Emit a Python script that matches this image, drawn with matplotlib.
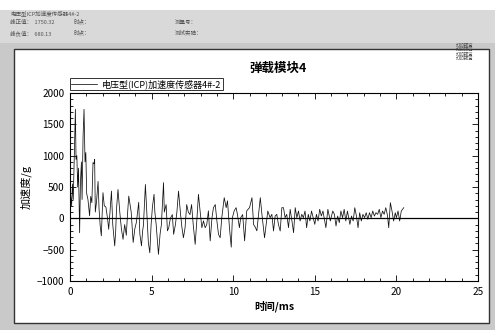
import matplotlib
matplotlib.use("Agg")
import matplotlib.pyplot as plt
from matplotlib.patches import Rectangle
from matplotlib.ticker import MultipleLocator

plt.rcParams['font.family'] = ['Noto Sans CJK SC', 'DejaVu Sans']

title = "弹载模块4"
legend_label = "电压型(ICP)加速度传感器4#-2"
x_label = "时间/ms"
y_label = "加速度/g"
x_ticks = [0, 5, 10, 15, 20, 25]
y_ticks = [-1000, -500, 0, 500, 1000, 1500, 2000]

time_ms = [
    0.00, 0.05, 0.10, 0.15, 0.20, 0.26, 0.33, 0.37, 0.42, 0.47, 0.52, 0.59, 0.64, 0.70, 0.74, 0.80,
    0.86, 0.92, 0.97, 1.02, 1.10, 1.20, 1.27, 1.34, 1.41, 1.47, 1.51, 1.55, 1.62, 1.72, 1.78, 1.85,
    1.92, 2.02, 2.10, 2.20, 2.30, 2.37, 2.45, 2.54, 2.62, 2.74, 2.80, 2.85, 2.94, 3.05, 3.15, 3.25,
    3.35, 3.45, 3.52, 3.60, 3.66, 3.75, 3.87, 3.97, 4.07, 4.14, 4.21, 4.28, 4.38, 4.45, 4.50, 4.62,
    4.70, 4.80, 4.89, 4.97, 5.05, 5.15, 5.20, 5.28, 5.36, 5.42, 5.52, 5.60, 5.73, 5.78, 5.89, 5.97,
    6.05, 6.15, 6.27, 6.35, 6.46, 6.55, 6.65, 6.70, 6.78, 6.86, 6.95, 7.05, 7.15, 7.25, 7.35, 7.45,
    7.55, 7.67, 7.77, 7.87, 7.97, 8.08, 8.18, 8.28, 8.38, 8.48, 8.59, 8.70, 8.79, 8.90, 9.00, 9.10,
    9.20, 9.30, 9.45, 9.57, 9.65, 9.77, 9.88, 9.95, 10.06, 10.18, 10.26, 10.38, 10.46, 10.58, 10.70, 10.83,
    11.00, 11.15, 11.25, 11.35, 11.45, 11.55, 11.66, 11.76, 11.92, 12.02, 12.12, 12.26, 12.37, 12.47, 12.57, 12.67,
    12.77, 12.88, 12.98, 13.08, 13.18, 13.28, 13.39, 13.49, 13.60, 13.70, 13.80, 13.90, 14.00, 14.10, 14.20, 14.30,
    14.40, 14.50, 14.60, 14.70, 14.80, 14.90, 15.00, 15.10, 15.20, 15.30, 15.40, 15.50, 15.68, 15.80, 15.95, 16.10,
    16.20, 16.30, 16.40, 16.50, 16.60, 16.70, 16.80, 16.90, 17.00, 17.15, 17.25, 17.35, 17.45, 17.55, 17.65, 17.75,
    17.85, 17.95, 18.05, 18.15, 18.25, 18.35, 18.45, 18.55, 18.65, 18.75, 18.85, 18.95, 19.05, 19.15, 19.25, 19.35,
    19.45, 19.53, 19.63, 19.73, 19.83, 19.93, 20.00, 20.10, 20.20, 20.30, 20.45,
]
accel_g = [
    0, 350, 200, 550, 300, 950, 1740, 940, 1000, 500, 800, -230, 580, 900, 300, 1300,
    1740, 900, 1050, 400, 300, 40, 350, 250, 890, 870, 940, 100, 250, 590, 150, -120,
    -280, 410, 200, 180, 0, -175, 100, 435, -100, -440, -200, 150, 460, 100, -170, -335,
    -100, -270, 50, 355, 250, 100, -385, -170, -60, 100, 255, -250, -440, -200, -110, 540,
    130, -385, -550, -100, 180, 383, 100, -100, -360, -575, -250, -100, 570, 100, 220, -200,
    -150, 0, 60, -255, -100, 100, 435, 280, 50, -150, -310, -150, 220, 100, 60, 220,
    -100, -415, -40, 383, 120, -150, -40, -150, -100, 120, -360, 10, 170, 220, -40, -255,
    -310, 10, 330, 170, 280, -150, -460, 10, 120, 170, 60, -150, 10, 60, -360, 120,
    170, 330, -100, -140, -200, 60, 330, 64, -310, -96, 117, 11, 64, -202, 37, 64,
    -96, -202, 170, 170, 11, 64, -149, 144, -43, -229, 170, 11, 117, -43, 64, 11,
    117, -149, 64, -43, 117, 11, -96, 64, -43, 144, 37, 117, -149, 144, -43, 117,
    64, -122, 37, -69, 117, 11, 144, -43, 117, -96, 37, -43, 170, 37, -149, 90,
    -43, 64, 11, 90, -16, 90, 11, 117, 37, 90, 64, 144, 11, 117, 64, 170,
    50, -149, 250, 117, -43, 90, 11, 117, -43, 117, 170,
]

W, H = 495, 330
fig = plt.figure(figsize=(W / 100, H / 100), dpi=100)
fig.patch.set_facecolor('#c9c9c9')

def px_rect(x0, y0, x1, y1, **kw):
    r = Rectangle((x0 / W, 1 - y1 / H), (x1 - x0) / W, (y1 - y0) / H,
                  transform=fig.transFigure, **kw)
    fig.add_artist(r)

# page areas
px_rect(0, 0, W, 10, facecolor='white', edgecolor='none', zorder=0)
px_rect(0, 10, W, 43, facecolor='#d9d9d9', edgecolor='none', zorder=0)
px_rect(14, 49, 489, 323, facecolor='white', edgecolor='#333333', linewidth=1.0, zorder=0)

# header texts
hdr = dict(fontsize=4.0, color='#555555', transform=fig.transFigure, va='center')
fig.text(10 / W, 1 - 13 / H, "电压型ICP加速度传感器4#-2", **hdr)
fig.text(10 / W, 1 - 22 / H, "峰正值：  1750.32", **hdr)
fig.text(74 / W, 1 - 22 / H, "时点：", **hdr)
fig.text(175 / W, 1 - 22 / H, "测量号：", **hdr)
fig.text(10 / W, 1 - 33 / H, "峰负值：  680.13", **hdr)
fig.text(74 / W, 1 - 33 / H, "时点：", **hdr)
fig.text(175 / W, 1 - 33 / H, "测试实验：", **hdr)
for i in range(4):
    fig.text(456 / W, 1 - (45 + i * 4.5) / H, "打印预览", fontsize=3.2,
             color='#444444', transform=fig.transFigure, va='center')

ax = fig.add_axes([70 / W, 1 - 281 / H, 408 / W, 188 / H])
ax.set_facecolor('white')
ax.plot(time_ms, accel_g, color='#111111', linewidth=0.55, label=legend_label)
ax.axhline(0, color='black', linewidth=0.9)

ax.set_xlim(0, 25)
ax.set_ylim(-1000, 2000)
ax.set_xticks(x_ticks)
ax.set_yticks(y_ticks)
ax.xaxis.set_minor_locator(MultipleLocator(1))
ax.yaxis.set_minor_locator(MultipleLocator(100))
ax.tick_params(which='both', direction='in', top=True, right=True, labelsize=7.2, width=0.6)
ax.tick_params(which='major', length=4, pad=4)
ax.tick_params(which='minor', length=2)
for s in ax.spines.values():
    s.set_linewidth(0.8)

ax.set_xlabel(x_label, fontsize=7.5, labelpad=3, fontweight='bold')
ax.set_ylabel(y_label, fontsize=8, labelpad=4)
fig.text(278 / W, 1 - 68 / H, title, fontsize=9, fontweight='bold',
         ha='center', va='center')

leg = ax.legend(loc='lower left', bbox_to_anchor=(0.0, 1.015), fontsize=6.5,
                frameon=True, fancybox=False, borderpad=0.15, handlelength=2.8,
                handletextpad=0.6, borderaxespad=0)
leg.get_frame().set_edgecolor('black')
leg.get_frame().set_linewidth(0.7)

fig.savefig('out.png', dpi=100)
